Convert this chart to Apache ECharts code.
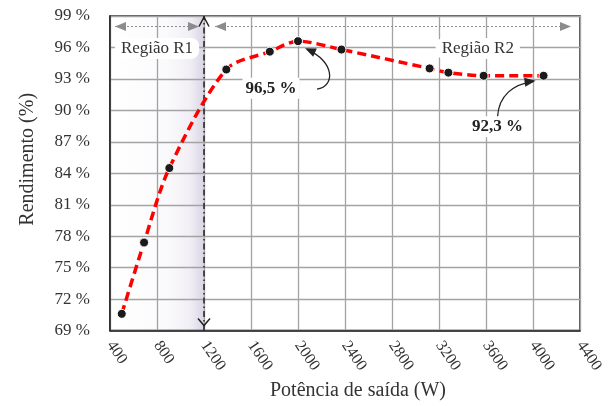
<!DOCTYPE html>
<html>
<head>
<meta charset="utf-8">
<script src="https://cdn.jsdelivr.net/npm/echarts@6/dist/echarts.min.js"></script>
<style>html,body{margin:0;padding:0;background:#fff}#c{width:612px;height:406px}</style>
</head>
<body>
<div id="c"></div>
<script>
// Data
var powerW = [500, 690, 905, 1390, 1760, 2000, 2370, 3120, 3280, 3580, 4090];
var efficiency = [70.6, 77.4, 84.5, 93.9, 95.6, 96.6, 95.8, 94.0, 93.6, 93.3, 93.3];
var xTicks = [400, 800, 1200, 1600, 2000, 2400, 2800, 3200, 3600, 4000, 4400];
var yTicks = [69, 72, 75, 78, 81, 84, 87, 90, 93, 96, 99];
var regionBoundary = 1200;
var regionLabels = ['Região R1', 'Região R2'];
var annotations = [
  { text: '96,5 %', index: 5 },
  { text: '92,3 %', index: 10 }
];

var FONT = '"Liberation Serif", "Times New Roman", serif';
var chart = echarts.init(document.getElementById('c'), null, { renderer: 'canvas' });

var option = {
  animation: false,
  backgroundColor: '#fff',
  grid: { left: 110, right: 32, top: 16, bottom: 74, show: true, borderColor: '#222', borderWidth: 1.5 },
  xAxis: {
    type: 'value', min: xTicks[0], max: xTicks[xTicks.length - 1], interval: 400,
    name: 'Potência de saída (W)', nameLocation: 'middle', nameGap: 46,
    nameTextStyle: { fontFamily: FONT, fontSize: 20, color: '#333', padding: [0, 0, 0, 26] },
    axisLine: { show: true, lineStyle: { color: '#222', width: 1.5 } },
    axisTick: { show: false },
    axisLabel: { rotate: -56, margin: 12, fontFamily: FONT, fontSize: 16, color: '#333', formatter: function (v) { return String(v); } },
    splitLine: { show: true, lineStyle: { color: '#a3a3a3', width: 1.3 } }
  },
  yAxis: {
    type: 'value', min: yTicks[0], max: yTicks[yTicks.length - 1], interval: 3,
    name: 'Rendimento (%)', nameLocation: 'middle', nameGap: 72,
    nameTextStyle: { fontFamily: FONT, fontSize: 20, color: '#333', padding: [0, 0, 0, 28] },
    axisLine: { show: true, lineStyle: { color: '#222', width: 1.5 } },
    axisTick: { show: false },
    axisLabel: { margin: 20, fontFamily: FONT, fontSize: 17, color: '#333', formatter: function (v) { return v + ' %'; } },
    splitLine: { show: true, lineStyle: { color: '#a3a3a3', width: 1.3 } }
  },
  series: [{
    type: 'line',
    data: powerW.map(function (x, i) { return [x, efficiency[i]]; }),
    smooth: 0.3,
    symbol: 'circle', symbolSize: 9,
    itemStyle: { color: '#1a1a1a', borderColor: '#fff', borderWidth: 1 },
    lineStyle: { color: '#ff0000', width: 3.5, type: [9, 5] },
    z: 5,
    markLine: {
      silent: true, symbol: 'none', label: { show: false },
      lineStyle: { color: '#222', width: 1.5, type: [6, 3, 1.5, 3] },
      data: [{ xAxis: regionBoundary }]
    }
  }]
};
chart.setOption(option);

function px(x, y) { return chart.convertToPixel({ gridIndex: 0 }, [x, y]); }
function arrowHead(tip, from, len, half, color) {
  var dx = tip[0] - from[0], dy = tip[1] - from[1];
  var d = Math.sqrt(dx * dx + dy * dy); dx /= d; dy /= d;
  var bx = tip[0] - dx * len, by = tip[1] - dy * len;
  return { type: 'polygon', shape: { points: [tip, [bx - dy * half, by + dx * half], [bx + dy * half, by - dx * half]] }, style: { fill: color }, z: 20 };
}

var g = [];
var topY = px(xTicks[0], 98)[1];
var left = px(xTicks[0], 99), right = px(xTicks[xTicks.length - 1], 99), bottomY = px(xTicks[0], 69)[1];
var bx = px(regionBoundary, 99)[0];
// region R1 shading (behind grid lines)
g.push({ type: 'rect', z: -10, silent: true,
  shape: { x: left[0], y: left[1], width: bx - left[0], height: bottomY - left[1] },
  style: { fill: new echarts.graphic.LinearGradient(0, 0, 1, 0, [
    { offset: 0, color: '#ffffff' },
    { offset: 0.6, color: '#fafafc' },
    { offset: 0.85, color: '#f1eff5' },
    { offset: 1, color: '#d9d5e4' }
  ]) } });
var grey = '#8c8c8c';
function dottedArrow(x1, x2) {
  g.push({ type: 'line', shape: { x1: x1, y1: topY, x2: x2, y2: topY }, style: { stroke: grey, lineWidth: 1, lineDash: [2, 2] }, z: 20 });
  g.push(arrowHead([x1, topY], [x1 + 10, topY], 11, 4.5, grey));
  g.push(arrowHead([x2, topY], [x2 - 10, topY], 11, 4.5, grey));
}
dottedArrow(left[0] + 5, bx - 5);
dottedArrow(bx + 11, right[0] - 9);
g.push({ type: 'polyline', shape: { points: [[bx - 5, topY], [bx, left[1] + 1], [bx + 5, topY]] }, style: { stroke: '#222', lineWidth: 1.5, fill: null }, z: 21 });
g.push({ type: 'polyline', shape: { points: [[bx - 6, bottomY - 12], [bx, bottomY - 5], [bx + 6, bottomY - 12]] }, style: { stroke: '#222', lineWidth: 1.5, fill: null }, z: 21 });
var r1 = px(800, 96), r2 = px(3530, 96);
[[r1, regionLabels[0]], [r2, regionLabels[1]]].forEach(function (p) {
  g.push({ type: 'text', x: p[0][0], y: p[0][1] + 1, z: 22,
    style: { text: p[1], font: '17px ' + FONT, fill: '#333', align: 'center', verticalAlign: 'middle',
      backgroundColor: '#fff', padding: [2, 6], borderRadius: 8 } });
});
var a1 = px(powerW[annotations[0].index], efficiency[annotations[0].index]);
var tip1 = [a1[0] + 7, a1[1] + 7];
var s1 = [a1[0] + 19, a1[1] + 48];
var c2 = [a1[0] + 36, a1[1] + 20];
g.push({ type: 'bezierCurve', shape: { x1: s1[0], y1: s1[1], cpx1: a1[0] + 38, cpy1: a1[1] + 45, cpx2: c2[0], cpy2: c2[1], x2: tip1[0] + 3, y2: tip1[1] + 2 }, style: { stroke: '#222', lineWidth: 1.3, fill: null }, z: 20 });
g.push(arrowHead(tip1, c2, 11, 4.5, '#222'));
g.push({ type: 'text', x: a1[0] - 27, y: a1[1] + 47, z: 22,
  style: { text: annotations[0].text, font: 'bold 17px ' + FONT, fill: '#222', align: 'center', verticalAlign: 'middle', backgroundColor: '#fff', padding: [2, 3] } });

var a2 = px(powerW[annotations[1].index], efficiency[annotations[1].index]);
var tip2 = [a2[0] - 8, a2[1] + 5];
var s2 = [a2[0] - 46, a2[1] + 41];
var c4 = [a2[0] - 30, a2[1] + 8];
g.push({ type: 'bezierCurve', shape: { x1: s2[0], y1: s2[1], cpx1: a2[0] - 45, cpy1: a2[1] + 20, cpx2: c4[0], cpy2: c4[1], x2: tip2[0] - 3, y2: tip2[1] + 1 }, style: { stroke: '#222', lineWidth: 1.3, fill: null }, z: 20 });
g.push(arrowHead(tip2, c4, 11, 4.5, '#222'));
g.push({ type: 'text', x: a2[0] - 46, y: a2[1] + 51, z: 22,
  style: { text: annotations[1].text, font: 'bold 17px ' + FONT, fill: '#222', align: 'center', verticalAlign: 'middle', backgroundColor: '#fff', padding: [2, 3] } });

chart.setOption({ graphic: g });
</script>
</body>
</html>
